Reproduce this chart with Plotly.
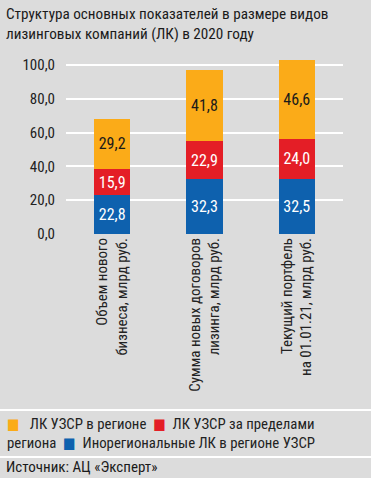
import plotly.graph_objects as go

categories = ["Объем нового<br>бизнеса, млрд руб.",
              "Сумма новых договоров<br>лизинга, млрд руб.",
              "Текущий портфель<br>на 01.01.21, млрд руб."]
inoregional = [22.8, 32.3, 32.5]
outside_region = [15.9, 22.9, 24.0]
in_region = [29.2, 41.8, 46.6]
series_names = ["ЛК УЗСР в регионе", "ЛК УЗСР за пределами региона",
                "Инорегиональные ЛК в регионе УЗСР"]
y_ticks = [0, 20, 40, 60, 80, 100]
title_text = "Структура основных показателей в размере видов<br>лизинговых компаний (ЛК) в 2020 году"
source_text = "Источник: АЦ «Эксперт»"

FONT = "Liberation Sans Narrow, Roboto Condensed, DejaVu Sans Condensed, Arial Narrow, sans-serif"
C_OR, C_RED, C_BLUE = "#FBAB18", "#E41E26", "#0E61AE"
BG = "#DCDCDC"

W, H = 371, 478
L, R, T, B = 66, 28, 55, 244
pw, ph = W - L - R, H - T - B

def px(x):
    return (x - L) / pw

def py(y):
    return (H - B - y) / ph

fig = go.Figure()
for vals, name, col, tcol in [(inoregional, series_names[2], C_BLUE, "white"),
                              (outside_region, series_names[1], C_RED, "white"),
                              (in_region, series_names[0], C_OR, "#1a1a1a")]:
    fig.add_trace(go.Bar(x=categories, y=vals, name=name, marker_color=col,
                         marker_line_width=0, texttemplate="%{y:.1f}",
                         textposition="inside", insidetextanchor="middle",
                         textangle=0,
                         textfont=dict(family=FONT, size=16, color=tcol),
                         showlegend=False))

leg = (f"<span style='color:{C_OR}'>■</span>   {series_names[0]}  "
       f"<span style='color:{C_RED}'>■</span>  "
       + series_names[1].replace(" региона", "<br>региона") +
       f"  <span style='color:{C_BLUE}'>■</span>  {series_names[2]}")

fig.update_layout(
    width=W, height=H, margin=dict(l=L, r=R, t=T, b=B, autoexpand=False),
    paper_bgcolor=BG, plot_bgcolor=BG, barmode="stack", bargap=0.61,
    separators=", ",
    font=dict(family=FONT, color="#222222"),
    xaxis=dict(tickangle=-90, tickfont=dict(family=FONT, size=15, color="#222222"),
               showgrid=False, zeroline=False, showline=False, ticks="",
               range=[-0.5, 2.5], automargin=False),
    yaxis=dict(range=[0, ph / 1.69], tickvals=y_ticks, tickformat=".1f",
               tickfont=dict(family=FONT, size=15, color="#222222"),
               showgrid=True, gridcolor="white", gridwidth=1.5,
               zeroline=False, showline=False, ticklabelstandoff=10,
               automargin=False),
    shapes=[dict(type="line", xref="paper", yref="paper", x0=px(0), x1=px(W),
                 y0=py(y), y1=py(y), line=dict(color="white", width=2))
            for y in (410, 457)],
    annotations=[
        dict(text=title_text, xref="paper", yref="paper", x=px(4), y=py(3),
             xanchor="left", yanchor="top", align="left", showarrow=False,
             font=dict(family=FONT, size=15.2, color="#1a1a1a")),
        dict(text=leg, xref="paper", yref="paper", x=px(5), y=py(413),
             xanchor="left", yanchor="top", align="left", showarrow=False,
             font=dict(family=FONT, size=14.8, color="#222222")),
        dict(text=source_text, xref="paper", yref="paper",
             x=px(4), y=py(467), xanchor="left", yanchor="middle",
             showarrow=False, font=dict(family=FONT, size=15, color="#1a1a1a")),
    ],
)

fig.write_html("out.html", config={"displayModeBar": False},
               post_script="document.body.style.margin='0';document.body.style.background='%s';" % BG)
